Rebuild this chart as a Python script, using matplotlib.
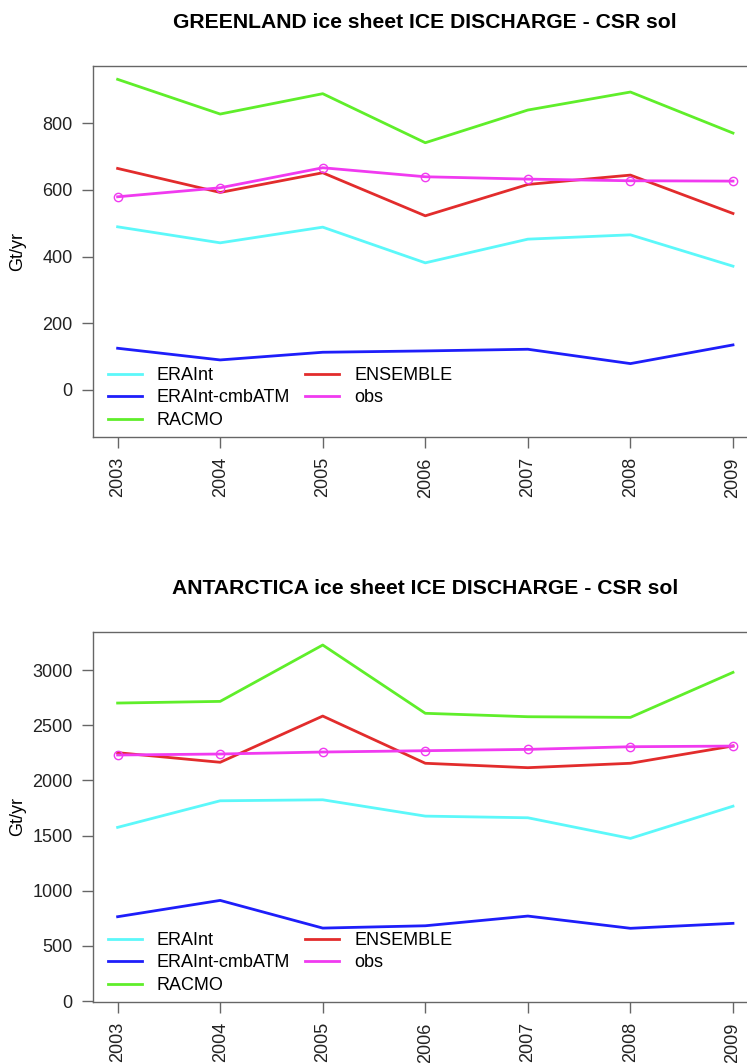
import matplotlib
matplotlib.use('Agg')
import matplotlib.pyplot as plt
from matplotlib.lines import Line2D

# years on the x axis
years = [2003, 2004, 2005, 2006, 2007, 2008, 2009]

# Greenland ice discharge (Gt/yr)
grl_erai = [489, 441, 488, 381, 452, 465, 371]
grl_erai_cmb = [125, 90, 113, 117, 122, 79, 135]
grl_racmo = [931, 827, 888, 741, 839, 893, 770]
grl_ensemble = [664, 592, 651, 522, 616, 644, 529]
grl_obs = [579, 606, 666, 639, 632, 627, 626]

# Antarctica ice discharge (Gt/yr)
ant_erai = [1574, 1815, 1824, 1676, 1661, 1474, 1766]
ant_erai_cmb = [764, 912, 661, 682, 770, 659, 704]
ant_racmo = [2701, 2716, 3227, 2608, 2577, 2571, 2979]
ant_ensemble = [2251, 2164, 2583, 2155, 2115, 2155, 2312]
ant_obs = [2230, 2239, 2257, 2269, 2281, 2305, 2311]

plt.rcParams['font.family'] = ['Liberation Sans', 'DejaVu Sans']

W, H = 747, 1063
fig = plt.figure(figsize=(W / 100, H / 100), dpi=100)

names = ['ERAInt', 'ERAInt-cmbATM', 'RACMO', 'ENSEMBLE', 'obs']
colors = {'ERAInt': '#5CF8FA', 'ERAInt-cmbATM': '#1E1EFA', 'RACMO': '#5FEE2A',
          'ENSEMBLE': '#E22C2C', 'obs': '#F03AF0'}


def panel(top, bottom, title, series, ylim, yticks):
    ax = fig.add_axes([93 / W, 1 - bottom / H, 664.6 / W, (bottom - top) / H])
    for name, vals in zip(names, series):
        if name == 'obs':
            ax.plot(years, vals, color=colors[name], lw=2, marker='o', ms=6,
                    mfc='none', mew=1)
        else:
            ax.plot(years, vals, color=colors[name], lw=2)
    pad = 0.04 * (years[-1] - years[0])
    ax.set_xlim(years[0] - pad, years[-1] + pad)
    ax.set_ylim(*ylim)
    ax.set_xticks(years)
    ax.set_xticklabels([str(y) for y in years], rotation=90)
    ax.set_yticks(yticks)
    ax.tick_params(length=8, width=1, color='#666666', labelsize=13,
                   labelcolor='#222222', pad=6.5)
    for s in ax.spines.values():
        s.set_color('#666666')
        s.set_linewidth(1)
    # legend in two columns, no frame
    hl = [Line2D([], [], color=colors[n], lw=2) for n in names]
    ax.legend(hl, names, loc='lower left', bbox_to_anchor=(0.0226, 0.022),
              ncol=2, frameon=False, fontsize=13,
              handlelength=1.88, handletextpad=0.83, columnspacing=0.83,
              labelspacing=0.3, borderpad=0, borderaxespad=0)
    fig.text(425 / W, 1 - (top - 44) / H, title, ha='center', va='center',
             fontsize=15.2, fontweight='bold')
    fig.text(18 / W, 1 - (top + bottom) / 2 / H, 'Gt/yr', rotation=90,
             ha='center', va='center', fontsize=13)
    return ax


panel(66, 437, 'GREENLAND ice sheet ICE DISCHARGE - CSR sol',
      [grl_erai, grl_erai_cmb, grl_racmo, grl_ensemble, grl_obs],
      (-141, 971), [0, 200, 400, 600, 800])

panel(632, 1002, 'ANTARCTICA ice sheet ICE DISCHARGE - CSR sol',
      [ant_erai, ant_erai_cmb, ant_racmo, ant_ensemble, ant_obs],
      (-9, 3345), [0, 500, 1000, 1500, 2000, 2500, 3000])

fig.savefig('out.png', dpi=100)
